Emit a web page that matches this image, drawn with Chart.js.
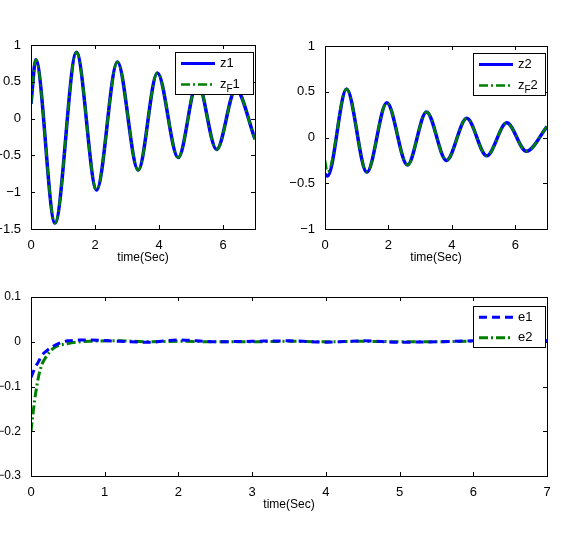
<!DOCTYPE html>
<html><head><meta charset="utf-8">
<script src="https://cdn.jsdelivr.net/npm/chart.js@4"></script>
<style>body{margin:0;background:#fff;width:561px;height:539px;position:relative;overflow:hidden}canvas{position:absolute}</style>
</head><body>
<canvas id="c1" style="left:0;top:35px"></canvas>
<canvas id="c2" style="left:290px;top:35px"></canvas>
<canvas id="c3" style="left:0;top:287px"></canvas>
<script>
const z1T=[0,0.15,0.75,1.42,2.05,2.7,3.35,3.95,4.6,5.2,5.8,6.4,7];
const z1V=[0.2,0.8,-1.42,0.9,-0.97,0.77,-0.7,0.62,-0.53,0.5,-0.42,0.4,-0.28];
const zF1V=z1V.slice();
const z2T=[0,0.08,0.68,1.32,1.95,2.6,3.2,3.83,4.47,5.1,5.73,6.35,7];
const z2V=[-0.4,-0.42,0.53,-0.38,0.38,-0.3,0.28,-0.25,0.21,-0.2,0.16,-0.15,0.12];
const zF2V=[-0.25,-0.38,0.53,-0.38,0.38,-0.3,0.28,-0.25,0.21,-0.2,0.16,-0.15,0.12];
const eT=[0,0.05,0.1,0.15,0.2,0.3,0.5,0.8,1.2,1.6,2.0,2.5,3.0,3.5,4.0,4.5,5.0,5.5,6.0,6.5,7];
const e1V=[-0.08,-0.06,-0.045,-0.03,-0.022,-0.01,0.002,0.004,0.001,-0.001,0.004,0.0,0.001,0.002,-0.001,0.002,-0.001,0.0,0.002,0.001,0.002];
const e2V=[-0.2,-0.13,-0.08,-0.05,-0.035,-0.015,-0.004,0.001,0.002,0.0,0.001,0.0,0.0,0.001,0.0,0.001,0.0,0.0,0.001,0.0,0.001];

const F='"Liberation Sans", Arial, sans-serif';
const pts=(t,v)=>t.map((x,i)=>({x,y:v[i]}));
const fmt=v=>{let s=(Math.round(v*1000)/1000).toString();return s.replace('-','\u2212');};
const boxPlugin={id:'box',afterDraw(ch){const a=ch.chartArea,c=ch.ctx;c.save();c.strokeStyle='#000';c.lineWidth=1;c.strokeRect(a.left+0.5,a.top+0.5,a.right-a.left,a.bottom-a.top);
 const xs=ch.scales.x,ys=ch.scales.y;c.beginPath();
 xs.ticks.forEach(t=>{const p=Math.round(xs.getPixelForValue(t.value))+0.5;c.moveTo(p,a.bottom);c.lineTo(p,a.bottom-4);c.moveTo(p,a.top);c.lineTo(p,a.top+4);});
 ys.ticks.forEach(t=>{const p=Math.round(ys.getPixelForValue(t.value))+0.5;c.moveTo(a.left,p);c.lineTo(a.left+4,p);c.moveTo(a.right,p);c.lineTo(a.right-4,p);});
 c.stroke();
 const L=ch.options.plugins.mleg;if(L){const x=a.right-L.w-2,y=a.top+L.top;c.fillStyle='#fff';c.fillRect(x,y,L.w,L.h);c.strokeRect(x+0.5,y+0.5,L.w,L.h);
  L.items.forEach((it,i)=>{const yy=y+L.h/4+i*L.h/2+1;c.beginPath();c.strokeStyle=it.c;c.lineWidth=it.lw;c.setLineDash(it.d||[]);c.moveTo(x+6,yy);c.lineTo(x+40,yy);c.stroke();c.setLineDash([]);
   c.fillStyle='#000';c.font='13px '+F;c.textBaseline='middle';let tx=x+45;
   it.t.forEach(p=>{if(p.sub){c.font='10px '+F;c.fillText(p.s,tx,yy+5);tx+=c.measureText(p.s).width;c.font='13px '+F;}else{c.fillText(p.s,tx,yy);tx+=c.measureText(p.s).width;}});});}
 c.restore();}};
function mk(id,w,h,pad,xmax,xstep,ymin,ymax,ystep,ds,leg,yw,yfs){
 const cv=document.getElementById(id);cv.width=w;cv.height=h;cv.style.width=w+'px';cv.style.height=h+'px';
 return new Chart(cv,{type:'line',data:{datasets:ds},plugins:[boxPlugin],options:{responsive:false,animation:false,devicePixelRatio:1,
  layout:{padding:pad},
  plugins:{legend:{display:false},tooltip:{enabled:false},mleg:leg},
  elements:{point:{radius:0},line:{cubicInterpolationMode:'monotone'}},
  scales:{x:{type:'linear',min:0,max:xmax,grid:{display:false},border:{display:false},ticks:{stepSize:xstep,color:'#000',font:{family:F,size:13},padding:1,callback:fmt},
   afterBuildTicks(s){s.ticks=s.ticks.filter(t=>Math.abs(t.value/xstep-Math.round(t.value/xstep))<1e-6);},
   title:{display:true,text:'time(Sec)',color:'#000',font:{family:F,size:12},padding:{top:0,bottom:0}},afterFit(s){s.height=36;}},
   y:{min:ymin,max:ymax,grid:{display:false},border:{display:false},ticks:{stepSize:ystep,color:'#000',font:{family:F,size:yfs},padding:2,callback:fmt},afterFit(s){s.width=yw;}}}}});
}
const blue='#0000ff',green='#008000';
mk('c1',270,230,{left:0,right:15,top:10,bottom:0},7,2,-1.5,1,0.5,[
 {data:pts(z1T,z1V),borderColor:blue,borderWidth:3.5,order:2},
 {data:pts(z1T,zF1V),borderColor:green,borderWidth:2.5,borderDash:[9,4,2,4],order:1}],
 {w:78,h:42,top:7,items:[{c:blue,lw:3,t:[{s:'z1'}]},{c:green,lw:2.5,d:[9,3,2,3],t:[{s:'z'},{s:'F',sub:1},{s:'1'}]}]},31,13);
mk('c2',271,230,{left:0,right:14,top:11,bottom:0},7,2,-1,1,0.5,[
 {data:pts(z2T,z2V),borderColor:blue,borderWidth:3.5,order:2},
 {data:pts(z2T,zF2V),borderColor:green,borderWidth:2.5,borderDash:[9,4,2,4],order:1}],
 {w:72,h:42,top:7,items:[{c:blue,lw:3,t:[{s:'z2'}]},{c:green,lw:2.5,d:[9,3,2,3],t:[{s:'z'},{s:'F',sub:1},{s:'2'}]}]},35,13);
mk('c3',561,225,{left:0,right:14,top:10,bottom:0},7,1,-0.3,0.1,0.1,[
 {data:pts(eT,e1V),borderColor:blue,borderWidth:3,borderDash:[8,5]},
 {data:pts(eT,e2V),borderColor:green,borderWidth:3,borderDash:[9,3,2,3]}],
 {w:72,h:41,top:9,items:[{c:blue,lw:3,d:[8,5],t:[{s:'e1'}]},{c:green,lw:3,d:[9,3,2,3],t:[{s:'e2'}]}]},31,12);
</script></body></html>
